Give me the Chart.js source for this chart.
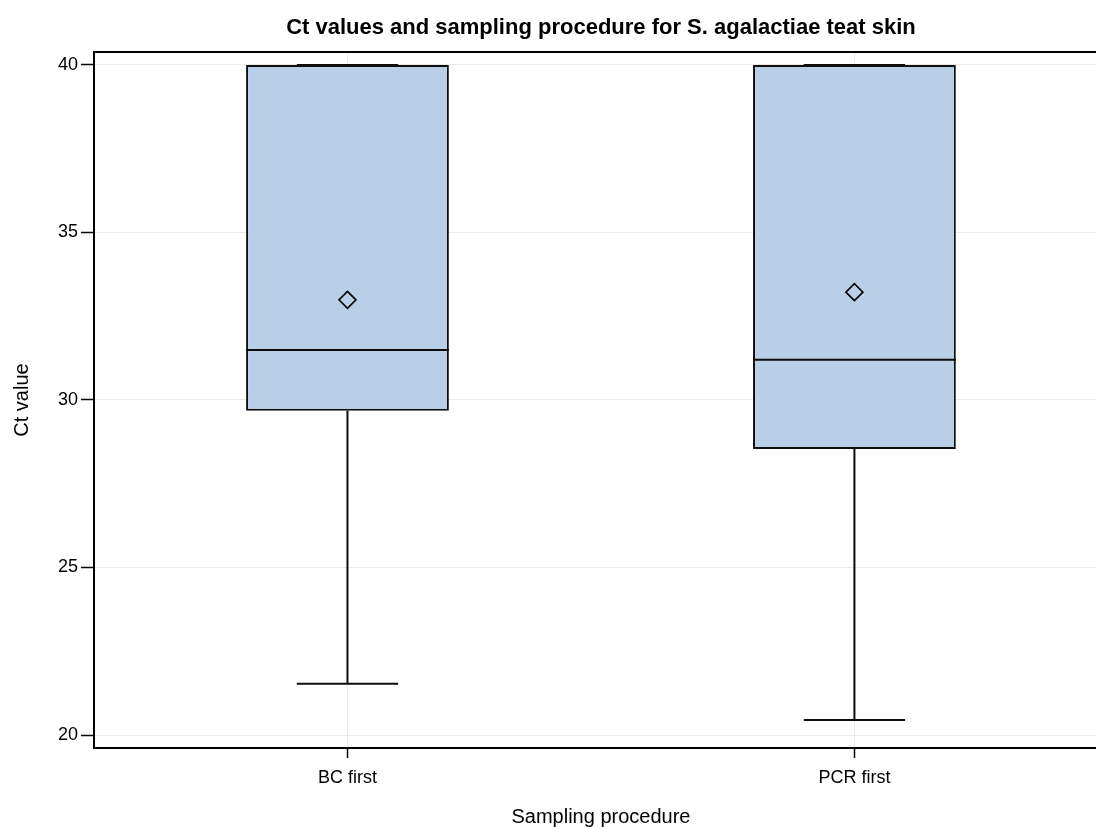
<!DOCTYPE html>
<html>
<head>
<meta charset="utf-8">
<title>Ct values and sampling procedure</title>
<script src="https://cdn.jsdelivr.net/npm/chart.js@4.4.1/dist/chart.umd.min.js"></script>
<style>
  html, body { margin: 0; padding: 0; background: #fff; overflow: hidden; width: 1096px; height: 827px; }
  /* the plot area runs on past the right edge of the window */
  #wrap { width: 1118px; height: 827px; position: relative; }
</style>
</head>
<body>
<div id="wrap"><canvas id="chart"></canvas></div>
<script>
// Box-plot summary per sampling procedure
const categories   = ['BC first', 'PCR first'];
const q1Values     = [29.68, 28.54];
const q3Values     = [40, 40];
const medianValues = [31.49, 31.20];
const meanValues   = [32.99, 33.22];
const whiskerLow   = [21.53, 20.45];
const whiskerHigh  = [40, 40];
const yTicks       = [20, 25, 30, 35, 40];

const FONT = "'Liberation Sans', Arial, Helvetica, sans-serif";
const INK = '#0d0d0d';
const GRID = '#ebebeb';

Chart.defaults.font.family = FONT;
Chart.defaults.color = '#000';

// Whiskers, caps, medians and the top frame line, drawn through the chart scales
const boxPlotExtras = {
  id: 'boxPlotExtras',
  beforeDatasetsDraw(chart) {
    const { ctx, chartArea } = chart;
    ctx.save();
    ctx.strokeStyle = '#000';
    ctx.lineWidth = 2;
    ctx.beginPath();
    ctx.moveTo(chartArea.left - 1, chartArea.top);
    ctx.lineTo(chartArea.right, chartArea.top);
    ctx.stroke();
    ctx.restore();
  },
  afterDatasetsDraw(chart) {
    const { ctx } = chart;
    const x = chart.scales.x, y = chart.scales.y;
    const bars = chart.getDatasetMeta(0).data;
    ctx.save();
    ctx.strokeStyle = INK;
    ctx.lineWidth = 2;
    ctx.lineCap = 'butt';
    const seg = (x1, y1, x2, y2) => {
      ctx.beginPath(); ctx.moveTo(x1, y1); ctx.lineTo(x2, y2); ctx.stroke();
    };
    categories.forEach((_, i) => {
      const cx = x.getPixelForValue(i);
      const half = bars[i].width / 2;
      const cap = half / 2;
      // lower whisker + cap
      seg(cx, y.getPixelForValue(q1Values[i]), cx, y.getPixelForValue(whiskerLow[i]));
      seg(cx - cap, y.getPixelForValue(whiskerLow[i]), cx + cap, y.getPixelForValue(whiskerLow[i]));
      // upper whisker + cap
      seg(cx, y.getPixelForValue(q3Values[i]), cx, y.getPixelForValue(whiskerHigh[i]));
      seg(cx - cap, y.getPixelForValue(whiskerHigh[i]), cx + cap, y.getPixelForValue(whiskerHigh[i]));
      // median
      seg(cx - half, y.getPixelForValue(medianValues[i]), cx + half, y.getPixelForValue(medianValues[i]));
    });
    ctx.restore();
  }
};

new Chart(document.getElementById('chart'), {
  data: {
    labels: categories,
    datasets: [
      {
        type: 'bar',
        label: 'IQR',
        data: categories.map((_, i) => [q1Values[i], q3Values[i]]),
        backgroundColor: '#b9cfe7',
        borderColor: INK,
        borderWidth: 2,
        borderSkipped: false,
        categoryPercentage: 0.8,
        barPercentage: 0.5,
        order: 2
      },
      {
        type: 'line',
        label: 'Mean',
        data: meanValues,
        showLine: false,
        pointStyle: 'rectRot',
        pointRadius: 8.5,
        pointHoverRadius: 8.5,
        pointBorderWidth: 1.6,
        pointBorderColor: '#000',
        pointBackgroundColor: 'rgba(0,0,0,0)',
        order: 1
      }
    ]
  },
  options: {
    responsive: true,
    maintainAspectRatio: false,
    animation: false,
    layout: { padding: 0 },
    plugins: {
      legend: { display: false },
      tooltip: { enabled: false },
      title: {
        display: true,
        text: 'Ct values and sampling procedure for S. agalactiae teat skin',
        fullSize: false,
        color: '#000',
        font: { size: 22, weight: 'bold', family: FONT },
        padding: { top: 14.5, bottom: 11.1 }
      }
    },
    scales: {
      x: {
        type: 'category',
        offset: true,
        grid: { offset: false, color: GRID, lineWidth: 1, tickColor: '#000', tickLength: 10, tickWidth: 1.5 },
        border: { display: true, color: '#000', width: 2 },
        ticks: { color: '#000', font: { size: 18 }, padding: 9 },
        title: {
          display: true,
          text: 'Sampling procedure',
          color: '#000',
          font: { size: 20, lineHeight: 1 },
          padding: { top: 2.5, bottom: 0 }
        },
        afterFit(scale) { scale.height = 79; }
      },
      y: {
        type: 'linear',
        min: 19.612,
        max: 40.388,
        afterBuildTicks(scale) { scale.ticks = yTicks.map(v => ({ value: v })); },
        grid: { color: GRID, lineWidth: 1, tickColor: '#000', tickLength: 13, tickWidth: 1.5 },
        border: { display: true, color: '#000', width: 2 },
        ticks: { color: '#000', font: { size: 18 }, padding: 3 },
        title: {
          display: true,
          text: 'Ct value',
          color: '#000',
          font: { size: 20, lineHeight: 1 },
          padding: { top: 12, bottom: 0 }
        },
        afterFit(scale) { scale.width = 94; }
      }
    }
  },
  plugins: [boxPlotExtras]
});
</script>
</body>
</html>
